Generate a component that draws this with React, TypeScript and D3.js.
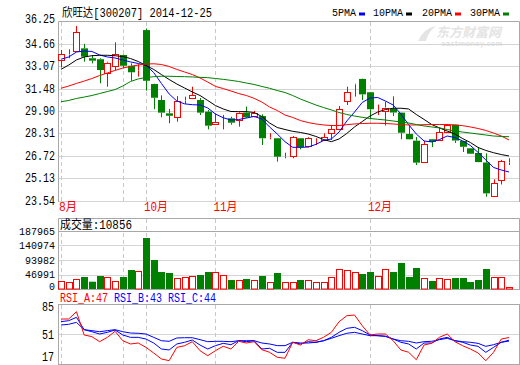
import React from "react";
import * as d3 from "d3";

const openP = [33.57,33.95,34.22,34.39,33.69,33.62,32.67,33.14,33.92,33.16,32.79,35.68,31.87,30.74,29.80,29.52,30.69,30.86,30.74,29.92,29.03,29.68,29.45,29.33,29.85,29.56,29.61,28.06,28.04,26.72,26.79,28.04,27.44,27.84,27.87,28.43,28.69,30.62,31.84,32.23,31.29,30.03,29.97,30.11,29.85,28.34,27.87,26.34,27.97,27.87,28.50,29.00,27.85,27.33,27.00,26.33,23.91,25.09,26.32];
const highP = [34.27,34.32,35.97,34.70,33.92,33.69,33.45,34.82,33.95,33.33,33.26,35.79,31.89,31.07,30.11,31.02,30.98,31.68,30.88,30.04,29.80,29.70,29.56,29.92,30.27,29.97,29.73,28.39,28.06,27.02,28.20,28.06,28.11,28.04,28.39,28.98,30.32,31.68,31.89,32.25,31.31,30.42,30.62,31.00,29.87,28.91,28.13,27.85,27.99,28.79,29.05,29.01,27.86,27.34,27.42,26.98,25.14,26.51,26.63];
const lowP = [33.05,33.69,34.13,33.45,33.33,31.92,31.68,32.86,32.98,32.10,32.39,31.40,30.09,29.52,29.10,29.21,30.46,30.84,29.68,28.67,29.01,28.67,29.00,28.86,29.47,29.52,27.56,27.97,26.39,26.63,26.63,27.26,27.40,27.56,27.85,27.92,28.67,30.39,30.98,30.74,29.37,29.68,28.94,29.61,27.97,27.95,26.15,26.32,27.42,27.86,28.49,27.71,27.07,26.93,26.35,23.91,23.89,24.78,26.15];
const closeP = [33.97,33.97,35.54,33.80,33.52,32.86,33.38,33.97,33.16,32.70,32.81,32.10,30.90,29.85,29.63,30.67,30.71,31.10,29.85,28.93,29.17,29.69,29.14,29.85,29.52,29.80,28.04,28.08,26.74,26.74,28.11,27.40,28.04,27.85,28.11,28.69,30.09,31.29,31.85,31.14,30.09,30.04,30.21,29.86,28.43,27.97,26.32,27.64,27.78,28.46,28.98,27.88,27.44,26.95,26.36,24.15,24.86,26.40,26.33];
const volume = [30100,25900,34700,42100,26900,45400,41200,29200,42100,64800,61600,168500,97200,58300,55100,37900,42100,44400,48600,58300,57400,47600,32400,31400,35600,31400,45400,25000,55100,25000,25000,32400,31400,25900,25900,41200,67000,63800,57400,51900,58300,45400,67000,58300,87500,42100,71300,37900,29200,37900,34700,38900,38900,25900,32400,68100,42100,42100,10856];
const ma5 = [33.62,33.78,34.13,34.20,34.17,33.92,33.78,33.71,33.57,33.43,33.32,33.19,32.68,31.91,31.17,30.67,30.47,30.41,30.39,30.18,29.75,29.49,29.33,29.36,29.47,29.58,29.40,28.84,28.34,27.80,27.40,27.40,27.42,27.61,27.88,27.99,28.48,29.26,29.89,30.57,30.88,30.92,30.67,30.39,29.75,29.01,28.34,27.85,27.78,27.95,28.20,28.09,27.85,27.53,27.04,26.51,25.98,25.80,25.66];
const ma10 = [32.91,33.21,33.57,33.78,33.87,33.90,33.90,33.87,33.81,33.67,33.46,33.18,32.90,32.54,32.19,31.87,31.59,31.31,31.06,30.71,30.35,30.11,29.93,29.92,29.92,29.86,29.58,29.12,28.80,28.66,28.53,28.45,28.34,28.17,27.95,27.80,27.99,28.38,28.84,29.22,29.61,29.89,30.07,30.16,30.16,30.11,29.72,29.37,29.01,28.77,28.55,28.34,28.02,27.74,27.39,27.18,27.02,26.89,26.79];
const ma20 = [31.57,31.73,31.91,32.08,32.26,32.47,32.65,32.83,33.00,33.11,33.21,33.28,33.30,33.25,33.11,32.90,32.72,32.54,32.30,32.01,31.70,31.55,31.38,31.20,31.06,30.86,30.60,30.25,30.00,29.68,29.51,29.29,29.15,29.05,28.98,28.94,28.94,29.00,29.05,29.08,29.10,29.10,29.08,29.05,29.01,28.98,28.98,29.00,29.01,29.01,29.01,28.98,28.93,28.84,28.73,28.59,28.41,28.20,27.92];
const ma30 = [30.62,30.71,30.85,30.95,31.06,31.20,31.34,31.48,31.73,32.05,32.23,32.33,32.39,32.42,32.42,32.40,32.39,32.37,32.34,32.32,32.26,32.20,32.13,32.05,31.94,31.84,31.70,31.57,31.41,31.27,31.06,30.81,30.60,30.39,30.21,30.04,29.86,29.72,29.61,29.52,29.44,29.38,29.33,29.26,29.19,29.12,29.01,28.91,28.84,28.77,28.66,28.55,28.48,28.41,28.34,28.27,28.20,28.17,28.15];
const rsiA = [68.0,68.0,76.3,49.9,48.0,42.3,47.2,54.0,43.4,39.7,40.8,35.9,29.5,22.7,20.8,35.9,37.7,42.3,32.1,26.4,32.1,37.1,34.0,42.7,40.8,42.3,33.2,30.3,24.6,23.5,41.6,38.5,44.5,43.4,47.3,52.9,64.9,71.7,72.5,60.4,49.9,51.0,51.0,43.4,32.9,30.3,21.9,38.5,40.5,47.3,51.0,42.3,37.7,34.0,29.5,20.7,30.3,45.3,47.0];
const rsiB = [65.0,66.1,69.9,55.9,53.6,51.0,52.9,55.5,49.9,47.2,47.2,45.3,40.8,34.0,32.9,39.7,41.6,44.2,38.5,34.0,37.8,40.4,38.9,43.4,42.3,43.4,34.0,34.8,30.2,30.2,41.6,39.7,42.3,41.6,43.4,47.2,52.9,57.4,58.6,54.8,49.9,49.1,48.4,45.3,41.6,39.7,34.0,40.8,40.8,45.3,47.2,43.4,41.6,38.5,37.0,30.2,35.9,41.6,43.0];
const rsiC = [61.2,62.0,64.2,55.9,54.8,53.6,54.8,55.9,53.6,52.1,51.8,51.0,47.2,43.4,42.7,46.5,46.8,46.8,44.6,42.3,42.7,42.7,42.3,43.4,43.4,43.4,40.8,39.7,37.8,37.8,41.6,40.8,40.8,41.6,43.4,46.1,49.1,51.8,52.9,51.0,49.1,49.1,48.4,45.3,43.4,42.7,40.8,42.3,42.7,44.6,46.1,43.4,42.3,41.6,40.4,37.0,38.9,41.6,44.0];

const priceTicks = [23.54, 25.13, 26.72, 28.31, 29.90, 31.48, 33.07, 34.66, 36.25];
const volumeTicks = [0, 46991, 93982, 140974, 187965];
const rsiTicks = [17, 51, 85];
const monthIdx = [0, 8, 11, 20, 40];
const monthLabels = ["8月", "", "10月", "11月", "12月"];
const legendNames = ["5PMA", "10PMA", "20PMA", "30PMA"];
const maColors = ["#0000ff", "#000000", "#ff0000", "#008000"];

const RED = "#ff0000";
const GREEN = "#008000";
const GRID = "#d4d4d4";
const FRAME = "#a8a8a8";
const FONT = "'Liberation Mono','Noto Sans CJK SC',monospace";

function txtWidth(s: string) {
  let w = 0;
  for (const ch of s) w += ch.charCodeAt(0) > 255 ? 12 : 6;
  return w;
}

function T({ x, y, s, fill = "#000", anchor = "start", size = 12 }: { x: number; y: number; s: string; fill?: string; anchor?: string; size?: number }) {
  const w = txtWidth(s);
  const x0 = anchor === "end" ? x - w : x;
  return (
    <text x={x0} y={y} fill={fill} fontSize={size} fontFamily={FONT} textLength={w} lengthAdjust="spacingAndGlyphs" dominantBaseline="central">
      {s}
    </text>
  );
}

export default function App() {
  const idx = d3.range(closeP.length);
  const L = 58.5, R = 519.5;
  const x = d3.scalePoint<number>().domain(idx).range([61, 509]);
  const yP = d3.scaleLinear().domain([23.54, 36.25]).range([202, 22]);
  const yV = d3.scaleLinear().domain([0, 187965]).range([290, 232]);
  const yR = d3.scaleLinear().domain([17, 85]).range([364, 304]);
  const bw = 5;

  const maLine = d3.line<number>().x((_, i) => x(i)!).y((d) => yP(d));
  const rsiLine = d3.line<number>().x((_, i) => x(i)!).y((d) => yR(d));
  const mas = [ma5, ma10, ma20, ma30];

  const crisp = (v: number) => Math.round(v) + 0.5;

  const vlines = (y0: number, y1: number) =>
    monthIdx.map((m, k) => (
      <line key={"v" + y0 + k} x1={crisp(x(m)!)} x2={crisp(x(m)!)} y1={y0} y2={y1} stroke="#c8c8c8" strokeDasharray="4,3" />
    ));

  return (
    <svg width={520} height={365} style={{ position: "absolute", left: 0, top: 0, background: "#fff" }}>
      <rect x={0} y={0} width={520} height={365} fill="#fff" />
      {/* watermark */}
      <path d="M418,41 Q424,28 436,26 Q428,32 426,41 Z" fill="#e4e4e4" />
      <text x={436} y={37} fontSize={13} fontWeight="bold" fontStyle="italic" fill="#e4e4e4" fontFamily="'Noto Sans CJK SC',sans-serif">东方财富网</text>
      <text x={441} y={46} fontSize={7} fontWeight="bold" fill="#e4e4e4" fontFamily="'DejaVu Sans',sans-serif">eastmoney.com</text>

      {/* header */}
      <T x={62} y={14} s="欣旺达[300207] 2014-12-25" />
      {legendNames.map((n, k) => {
        const lx = [332, 373, 422, 470][k];
        const w = txtWidth(n);
        return (
          <g key={n}>
            <T x={lx} y={13} s={n} size={11} />
            <rect x={lx + w + 3} y={12.5} width={6} height={3} fill={maColors[k]} />
          </g>
        );
      })}

      {/* main panel grid */}
      {priceTicks.map((t) => (
        <line key={"pg" + t} x1={L} x2={R} y1={crisp(yP(t)) - 1} y2={crisp(yP(t)) - 1} stroke={t === priceTicks[priceTicks.length - 1] ? FRAME : GRID} />
      ))}
      {vlines(22, 202)}
      <line x1={L} x2={L} y1={21.5} y2={202} stroke={FRAME} />
      <line x1={R} x2={R} y1={21.5} y2={202} stroke={FRAME} />
      {priceTicks.map((t, k) => (
        <T key={"pt" + t} x={55} y={k === priceTicks.length - 1 ? yP(t) - 2 : yP(t)} s={t.toFixed(2)} anchor="end" />
      ))}

      {/* candles */}
      {idx.map((i) => {
        const up = closeP[i] >= openP[i];
        const cx = Math.round(x(i)!) + 0.5;
        const top = yP(Math.max(openP[i], closeP[i]));
        const bot = yP(Math.min(openP[i], closeP[i]));
        const col = up ? RED : GREEN;
        return (
          <g key={"c" + i}>
            <line x1={cx} x2={cx} y1={yP(highP[i])} y2={top} stroke={col} />
            <line x1={cx} x2={cx} y1={bot} y2={yP(lowP[i])} stroke={col} />
            {up ? (
              <rect x={cx - bw / 2 - 0.5} y={Math.round(top) + 0.5} width={bw + 1} height={Math.max(0, Math.round(bot - top))} fill="#fff" stroke={RED} />
            ) : (
              <rect x={cx - bw / 2 - 1} y={top} width={bw + 2} height={Math.max(1, bot - top)} fill={GREEN} />
            )}
          </g>
        );
      })}

      {/* moving averages */}
      {mas.map((m, k) => (
        <path key={"ma" + k} d={maLine(m)!} fill="none" stroke={maColors[k]} strokeWidth={1} />
      ))}

      {/* month labels */}
      {monthIdx.map((m, k) =>
        monthLabels[k] ? <T key={"ml" + k} x={x(m)! - 2} y={208} s={monthLabels[k]} fill={RED} /> : null
      )}

      {/* volume panel */}
      <line x1={L} x2={R} y1={218.5} y2={218.5} stroke={FRAME} />
      {volumeTicks.map((t) => (
        <line key={"vg" + t} x1={L} x2={R} y1={crisp(yV(t)) - 1} y2={crisp(yV(t)) - 1} stroke={t === 0 || t === 187965 ? FRAME : GRID} />
      ))}
      {vlines(219, 289)}
      <line x1={L} x2={L} y1={218.5} y2={290} stroke={FRAME} />
      <line x1={R} x2={R} y1={218.5} y2={290} stroke={FRAME} />
      <T x={60} y={226} s="成交量:10856" />
      {volumeTicks.map((t) => (
        <T key={"vt" + t} x={55} y={t === 0 ? 286.5 : yV(t) - 0.5} s={String(t)} anchor="end" size={11} />
      ))}
      {idx.map((i) => {
        const up = closeP[i] >= openP[i];
        const cx = Math.round(x(i)!) + 0.5;
        const top = yV(volume[i]);
        const bot = yV(0) - 1;
        return up ? (
          <rect key={"vb" + i} x={cx - bw / 2 - 0.5} y={Math.round(top) + 0.5} width={bw + 1} height={Math.max(1, Math.round(bot - top) - 0.5)} fill="#fff" stroke={RED} />
        ) : (
          <rect key={"vb" + i} x={cx - bw / 2 - 1} y={top} width={bw + 2} height={bot - top} fill={GREEN} />
        );
      })}

      {/* RSI panel */}
      <T x={60} y={299} s="RSI_A:47" fill={RED} />
      <T x={114} y={299} s="RSI_B:43" fill="#0000ff" />
      <T x={168} y={299} s="RSI_C:44" fill="#0000ff" />
      {rsiTicks.map((t) => (
        <line key={"rg" + t} x1={L} x2={R} y1={crisp(yR(t))} y2={crisp(yR(t))} stroke={t === 51 ? GRID : FRAME} />
      ))}
      {vlines(305, 364)}
      <line x1={L} x2={L} y1={304} y2={365} stroke={FRAME} />
      <line x1={R} x2={R} y1={304} y2={365} stroke={FRAME} />
      {rsiTicks.map((t) => (
        <T key={"rt" + t} x={54} y={Math.max(308, Math.min(yR(t) + 2, 358))} s={String(t)} anchor="end" />
      ))}
      <path d={rsiLine(rsiC)!} fill="none" stroke="#0000ff" />
      <path d={rsiLine(rsiB)!} fill="none" stroke="#0000ff" />
      <path d={rsiLine(rsiA)!} fill="none" stroke={RED} />
    </svg>
  );
}
